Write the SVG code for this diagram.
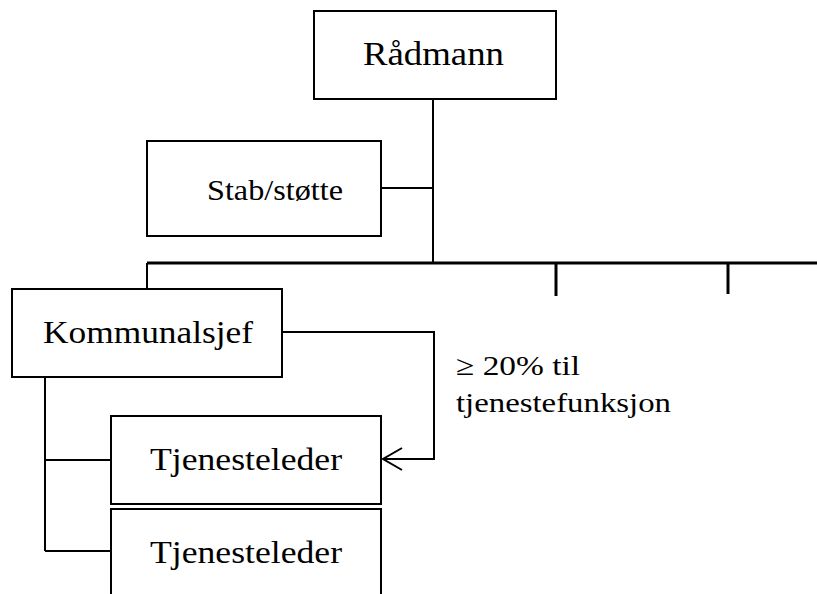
<svg xmlns="http://www.w3.org/2000/svg" width="817" height="594" viewBox="0 0 817 594">
<style>
.box{fill:#fff;stroke:#000;stroke-width:2}
.ln{fill:none;stroke:#000;stroke-width:2}
.bus{fill:none;stroke:#000;stroke-width:3}
text{font-family:"Liberation Serif","Times New Roman",serif;fill:#000}
</style>
<g id="connectors">
<path class="ln" d="M433,99 V263"/>
<path class="ln" d="M381,188 H433"/>
<path class="bus" d="M147,263 H817"/>
<path class="ln" d="M147,263 V289"/>
<path class="bus" d="M556,263 V296"/>
<path class="bus" d="M728,263 V294"/>
<path class="ln" d="M282,332 H434 V459 H383"/>
<path class="ln" d="M402,448 L383,459 L402,470"/>
<path class="ln" d="M45,377 V551"/>
<path class="ln" d="M45,460 H111"/>
<path class="ln" d="M45,551 H111"/>
</g>
<g id="radmann">
<rect class="box" x="314" y="11" width="242" height="88"/>
<text x="363" y="65" font-size="33" textLength="141" lengthAdjust="spacingAndGlyphs">Rådmann</text>
</g>
<g id="stab">
<rect class="box" x="147" y="141" width="234" height="95"/>
<text x="207" y="200" font-size="30" textLength="136" lengthAdjust="spacingAndGlyphs">Stab/støtte</text>
</g>
<g id="kommunalsjef">
<rect class="box" x="12" y="289" width="270" height="88"/>
<text x="43" y="343" font-size="32" textLength="210" lengthAdjust="spacingAndGlyphs">Kommunalsjef</text>
</g>
<g id="tjenesteleder1">
<rect class="box" x="111" y="416" width="270" height="88"/>
<text x="150" y="470" font-size="32" textLength="192" lengthAdjust="spacingAndGlyphs">Tjenesteleder</text>
</g>
<g id="tjenesteleder2">
<rect class="box" x="111" y="509" width="270" height="100"/>
<text x="150" y="563" font-size="32" textLength="192" lengthAdjust="spacingAndGlyphs">Tjenesteleder</text>
</g>
<g id="label">
<text x="456" y="375" font-size="28" textLength="124" lengthAdjust="spacingAndGlyphs">≥ 20% til</text>
<text x="456" y="412" font-size="28" textLength="215" lengthAdjust="spacingAndGlyphs">tjenestefunksjon</text>
</g>
</svg>
